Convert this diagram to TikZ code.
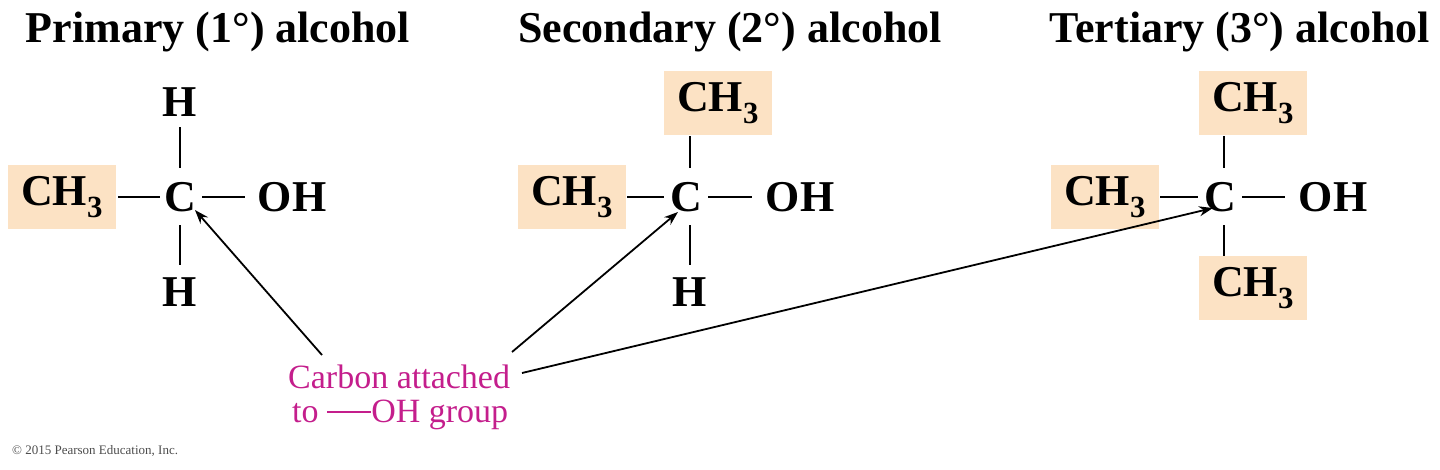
\documentclass[tikz,border=0pt]{standalone}
\usepackage{fontspec}
\setmainfont{Liberation Serif}
\definecolor{peach}{RGB}{252,226,196}
\definecolor{pink}{RGB}{196,30,140}
\tikzset{
 atom/.style={font=\fontsize{44}{46}\selectfont\bfseries, inner sep=0pt},
 boxed/.style={atom, fill=peach, minimum width=108pt, minimum height=64pt},
 ttl/.style={font=\fontsize{44}{46}\selectfont\bfseries, inner sep=0pt},
 lbl/.style={font=\fontsize{34}{36}\selectfont, text=pink, inner sep=0pt, anchor=west},
 bond/.style={line width=2pt},
 arr/.style={line width=1.8pt, -{Stealth[length=14pt,width=10pt]}}
}
\usetikzlibrary{arrows.meta}
\begin{document}
\begin{tikzpicture}[x=1pt,y=-1pt]
\useasboundingbox (0,0) rectangle (1440,469);
\node[ttl] at (218,32) {Primary (1°) alcohol};
\node[ttl] at (730,32) {Secondary (2°) alcohol};
\node[ttl] at (1240,32) {Tertiary (3°) alcohol};
% molecule 1
\node[atom] (c1) at (180,197) {C};
\node[atom] (h1t) at (180,102) {H};
\node[atom] (h1b) at (180,292) {H};
\node[boxed] (m1l) at (62,197) {CH\textsubscript{3}};
\node[atom] (o1) at (292,197) {OH};
\draw[bond] (118,197) -- (160,197);
\draw[bond] (202,197) -- (245,197);
\draw[bond] (180,127) -- (180,168);
\draw[bond] (180,225) -- (180,265);
% molecule 2
\node[atom] (c2) at (686,197) {C};
\node[boxed] (m2t) at (718,103) {CH\textsubscript{3}};
\node[boxed] (m2l) at (572,197) {CH\textsubscript{3}};
\node[atom] (o2) at (800,197) {OH};
\node[atom] (h2b) at (690,292) {H};
\draw[bond] (627,197) -- (664,197);
\draw[bond] (708,197) -- (752,197);
\draw[bond] (690,136) -- (690,168);
\draw[bond] (690,225) -- (690,265);
% molecule 3
\node[atom] (c3) at (1220,197) {C};
\node[boxed] (m3t) at (1253,103) {CH\textsubscript{3}};
\node[boxed] (m3l) at (1105,197) {CH\textsubscript{3}};
\node[atom] (o3) at (1333,197) {OH};
\node[boxed] (m3b) at (1253,288) {CH\textsubscript{3}};
\draw[bond] (1160,197) -- (1198,197);
\draw[bond] (1242,197) -- (1285,197);
\draw[bond] (1224,136) -- (1224,168);
\draw[bond] (1224,225) -- (1224,256);
% label
\node[lbl] (l1) at (288,377) {Carbon attached};
\node[lbl] (l2) at (292,415) {to \rule[0.28em]{1.3em}{2.5pt}OH group};
\coordinate (s1) at (322,355);
\coordinate (s2) at (512,352);
\coordinate (s3) at (522,373);
\coordinate (e1) at (195,210);
\coordinate (e2) at (678,212);
\coordinate (e3) at (1213,208);
\draw[arr] (s1) -- (e1);
\draw[arr] (s2) -- (e2);
\draw[arr] (s3) -- (e3);
\node[font=\fontsize{13}{14}\selectfont, text=black!70, anchor=west, inner sep=0pt] (cp) at (12,451) {© 2015 Pearson Education, Inc.};
\end{tikzpicture}
\end{document}
